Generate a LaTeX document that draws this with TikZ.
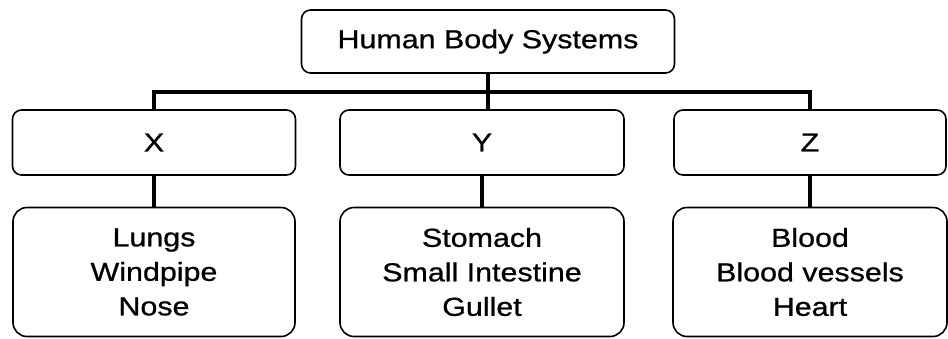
\documentclass[tikz,border=0pt]{standalone}
\usepackage{fontspec}
\setmainfont{Liberation Sans}[FakeStretch=1.17,FakeBold=0.8]
\begin{document}
\begin{tikzpicture}[x=1pt,y=-1pt,
		box/.style={draw,line width=1.6pt,rounded corners=9pt,align=center,inner sep=0pt,
			font=\fontsize{26}{34.5}\selectfont},
		conn/.style={line width=3.5pt}]
			\useasboundingbox (0,0) rectangle (948,338);

			\node[box,minimum width=373pt,minimum height=63pt] (sys) at (488,41.5) {Human Body Systems};

			\node[box,minimum width=283pt,minimum height=65pt] (x) at (154,142.5) {X};
			\node[box,minimum width=284pt,minimum height=65pt] (y) at (482,142.5) {Y};
			\node[box,minimum width=272pt,minimum height=65pt] (z) at (810,142.5) {Z};

			\node[box,rounded corners=14pt,minimum width=282pt,minimum height=129pt] (lx) at (154,272) {Lungs\\Windpipe\\Nose};
			\node[box,rounded corners=14pt,minimum width=284pt,minimum height=129pt] (ly) at (482,272) {Stomach\\Small Intestine\\Gullet};
			\node[box,rounded corners=14pt,minimum width=274pt,minimum height=129pt] (lz) at (810,272) {Blood\\Blood vessels\\Heart};

			\coordinate (bus) at (486,92);
			\draw[conn] (sys.south) -- (sys.south |- y.north);
			\draw[conn] (x.north) |- (bus) -| (z.north);
			\draw[conn] (x) -- (lx);
			\draw[conn] (y) -- (ly);
			\draw[conn] (z) -- (lz);
		\end{tikzpicture}
\end{document}
